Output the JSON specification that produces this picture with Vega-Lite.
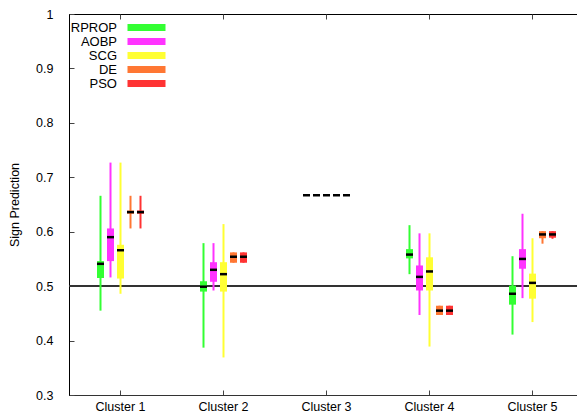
{
  "$schema": "https://vega.github.io/schema/vega-lite/v6.json",
  "autosize": "none",
  "width": 508,
  "height": 381,
  "padding": {"left": 69, "top": 14, "right": 0, "bottom": 19},
  "background": "white",
  "config": {
    "font": "Liberation Sans",
    "view": {"stroke": "black", "strokeWidth": 1},
    "axis": {"grid": false, "labelFont": "Liberation Sans", "titleFont": "Liberation Sans", "labelFontSize": 12.5, "titleFontSize": 12.5, "titleFontWeight": "normal", "labelColor": "black", "titleColor": "black", "domainColor": "black", "tickColor": "#444"}
  },
  "data": {"values": [
    {"cluster": "Cluster 1", "algo": "RPROP", "lo": 0.455, "q1": 0.515, "med": 0.541, "q3": 0.546, "hi": 0.666},
    {"cluster": "Cluster 1", "algo": "AOBP", "lo": 0.516, "q1": 0.546, "med": 0.590, "q3": 0.606, "hi": 0.727},
    {"cluster": "Cluster 1", "algo": "SCG", "lo": 0.486, "q1": 0.514, "med": 0.566, "q3": 0.576, "hi": 0.727},
    {"cluster": "Cluster 1", "algo": "DE", "lo": 0.606, "q1": 0.633, "med": 0.636, "q3": 0.639, "hi": 0.666},
    {"cluster": "Cluster 1", "algo": "PSO", "lo": 0.606, "q1": 0.633, "med": 0.636, "q3": 0.639, "hi": 0.666},
    {"cluster": "Cluster 2", "algo": "RPROP", "lo": 0.387, "q1": 0.490, "med": 0.499, "q3": 0.509, "hi": 0.579},
    {"cluster": "Cluster 2", "algo": "AOBP", "lo": 0.492, "q1": 0.508, "med": 0.530, "q3": 0.544, "hi": 0.579},
    {"cluster": "Cluster 2", "algo": "SCG", "lo": 0.369, "q1": 0.490, "med": 0.522, "q3": 0.544, "hi": 0.614},
    {"cluster": "Cluster 2", "algo": "DE", "lo": 0.543, "q1": 0.543, "med": 0.554, "q3": 0.562, "hi": 0.562},
    {"cluster": "Cluster 2", "algo": "PSO", "lo": 0.543, "q1": 0.543, "med": 0.554, "q3": 0.562, "hi": 0.562},
    {"cluster": "Cluster 3", "algo": "RPROP", "lo": 0.667, "q1": 0.667, "med": 0.667, "q3": 0.667, "hi": 0.667},
    {"cluster": "Cluster 3", "algo": "AOBP", "lo": 0.667, "q1": 0.667, "med": 0.667, "q3": 0.667, "hi": 0.667},
    {"cluster": "Cluster 3", "algo": "SCG", "lo": 0.667, "q1": 0.667, "med": 0.667, "q3": 0.667, "hi": 0.667},
    {"cluster": "Cluster 3", "algo": "DE", "lo": 0.667, "q1": 0.667, "med": 0.667, "q3": 0.667, "hi": 0.667},
    {"cluster": "Cluster 3", "algo": "PSO", "lo": 0.667, "q1": 0.667, "med": 0.667, "q3": 0.667, "hi": 0.667},
    {"cluster": "Cluster 4", "algo": "RPROP", "lo": 0.522, "q1": 0.551, "med": 0.558, "q3": 0.568, "hi": 0.612},
    {"cluster": "Cluster 4", "algo": "AOBP", "lo": 0.447, "q1": 0.492, "med": 0.517, "q3": 0.538, "hi": 0.597},
    {"cluster": "Cluster 4", "algo": "SCG", "lo": 0.389, "q1": 0.492, "med": 0.527, "q3": 0.553, "hi": 0.597},
    {"cluster": "Cluster 4", "algo": "DE", "lo": 0.447, "q1": 0.447, "med": 0.455, "q3": 0.464, "hi": 0.464},
    {"cluster": "Cluster 4", "algo": "PSO", "lo": 0.447, "q1": 0.447, "med": 0.455, "q3": 0.464, "hi": 0.464},
    {"cluster": "Cluster 5", "algo": "RPROP", "lo": 0.411, "q1": 0.466, "med": 0.486, "q3": 0.501, "hi": 0.555},
    {"cluster": "Cluster 5", "algo": "AOBP", "lo": 0.478, "q1": 0.532, "med": 0.550, "q3": 0.568, "hi": 0.633},
    {"cluster": "Cluster 5", "algo": "SCG", "lo": 0.434, "q1": 0.477, "med": 0.506, "q3": 0.523, "hi": 0.588},
    {"cluster": "Cluster 5", "algo": "DE", "lo": 0.578, "q1": 0.588, "med": 0.595, "q3": 0.601, "hi": 0.601},
    {"cluster": "Cluster 5", "algo": "PSO", "lo": 0.587, "q1": 0.589, "med": 0.595, "q3": 0.601, "hi": 0.601}
  ]},
  "resolve": {"axis": {"x": "independent"}},
  "layer": [
    {
      "mark": {"type": "rule", "color": "#333333", "strokeWidth": 1.5},
      "encoding": {"y": {"datum": 0.5, "type": "quantitative", "scale": {"domain": [0.3, 1], "nice": false, "zero": false}}}
    },
    {
      "mark": {"type": "rule", "strokeWidth": 2},
      "encoding": {
        "x": {"field": "cluster", "type": "nominal", "axis": null, "scale": {"type": "band", "range": [0, 515], "paddingInner": 0, "paddingOuter": 0}},
        "xOffset": {"field": "algo", "type": "nominal", "scale": {"domain": ["RPROP", "AOBP", "SCG", "DE", "PSO"], "range": [24.5, 78.5], "paddingInner": 0.3, "paddingOuter": 0.35}},
        "y": {"field": "lo", "type": "quantitative"},
        "y2": {"field": "hi"},
        "color": {"field": "algo", "type": "nominal"}
      }
    },
    {
      "mark": {"type": "bar", "stroke": null},
      "encoding": {
        "x": {"field": "cluster", "type": "nominal", "axis": {"title": null, "orient": "bottom", "tickSize": -5, "labelPadding": 10, "labelAngle": 0, "domainColor": "#333"}},
        "xOffset": {"field": "algo", "type": "nominal"},
        "y": {"field": "q1", "type": "quantitative", "axis": {"title": "Sign Prediction", "values": [0.3, 0.4, 0.5, 0.6, 0.7, 0.8, 0.9, 1], "format": "~g", "tickSize": -5, "labelPadding": 21, "titlePadding": 14}},
        "y2": {"field": "q3"},
        "color": {"field": "algo", "type": "nominal",
          "scale": {"domain": ["RPROP", "AOBP", "SCG", "DE", "PSO"], "range": ["#33ff33", "#ff33ff", "#ffff33", "#ff7733", "#ff3333"]},
          "legend": {"title": null, "orient": "none", "legendX": 71, "legendY": 7, "padding": 0, "symbolType": "M-4,-0.72H4V0.72H-4Z", "symbolSize": 90.25, "symbolStrokeWidth": 0, "symbolOpacity": 1, "labelAlign": "right", "labelOffset": -36, "labelFontSize": 13, "labelFont": "Liberation Sans", "labelColor": "black", "rowPadding": -0.9}
        }
      }
    },
    {
      "mark": {"type": "tick", "color": "black", "thickness": 2.5, "size": 7, "opacity": 1},
      "encoding": {
        "x": {"field": "cluster", "type": "nominal", "axis": {"title": null, "orient": "top", "labels": false, "domain": false, "tickSize": -5}},
        "xOffset": {"field": "algo", "type": "nominal"},
        "y": {"field": "med", "type": "quantitative"}
      }
    }
  ]
}
